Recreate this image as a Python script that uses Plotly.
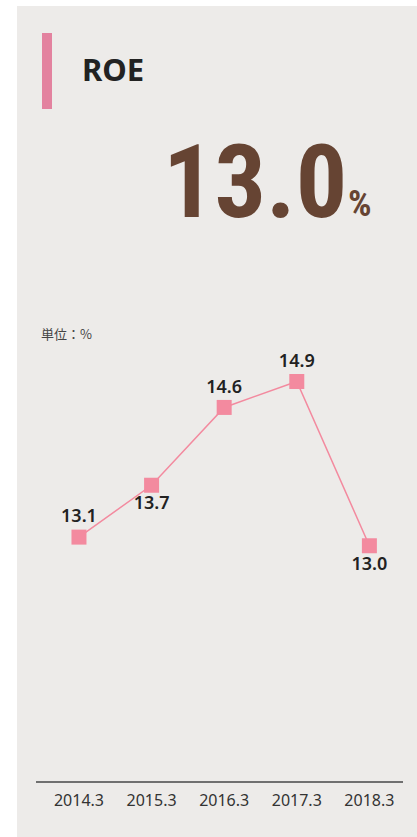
import plotly.graph_objects as go

categories = ["2014.3", "2015.3", "2016.3", "2017.3", "2018.3"]
roe_values = [13.1, 13.7, 14.6, 14.9, 13.0]
label_positions = ["top center", "bottom center", "top center", "top center", "bottom center"]
headline_value = "13.0"
title_text = "ROE"
unit_text = "単位：%"

W, H = 417, 837


def px(x):
    return x / W


def py(y):
    return 1 - y / H


BG = "#EDEBE9"
PINK = "#F38A9F"
BAR = "#E3829F"
BROWN = "#664433"
TXT = "#222222"

fig = go.Figure()
fig.add_trace(go.Scatter(
    x=list(range(len(categories))),
    y=roe_values,
    mode="lines+markers+text",
    line=dict(color=PINK, width=1.5),
    marker=dict(symbol="square", size=15, color=PINK),
    text=[f"{v:.1f}" for v in roe_values],
    textposition=label_positions,
    textfont=dict(family="Noto Sans", size=18, color=TXT, weight=600),
    cliponaxis=False,
    hoverinfo="skip",
))

shapes = [
    dict(type="rect", xref="paper", yref="paper", x0=px(17), x1=px(417), y0=py(837), y1=py(6),
         fillcolor=BG, line=dict(width=0), layer="below"),
    dict(type="rect", xref="paper", yref="paper", x0=px(42), x1=px(52), y0=py(109), y1=py(33),
         fillcolor=BAR, line=dict(width=0), layer="below"),
]

annotations = [
    dict(text=f"<b>{title_text}</b>", x=px(80), y=py(69), xref="paper", yref="paper",
         xanchor="left", yanchor="middle", showarrow=False,
         font=dict(family="Noto Sans", size=31, color=TXT)),
    dict(text=f"<b>{headline_value}</b>", x=px(349), y=py(181.5), xref="paper", yref="paper",
         xanchor="right", yanchor="middle", showarrow=False,
         font=dict(family="Roboto Condensed", size=102, color=BROWN)),
    dict(text="<b>%</b>", x=px(346), y=py(203.5), xref="paper", yref="paper",
         xanchor="left", yanchor="middle", showarrow=False,
         font=dict(family="Roboto Condensed", size=37, color=BROWN)),
    dict(text=unit_text, x=px(39), y=py(333), xref="paper", yref="paper",
         xanchor="left", yanchor="middle", showarrow=False,
         font=dict(family="Noto Sans CJK JP", size=13, color="#444444")),
]

fig.update_layout(
    width=W, height=H,
    margin=dict(l=0, r=0, t=0, b=0),
    paper_bgcolor="white",
    plot_bgcolor="rgba(0,0,0,0)",
    showlegend=False,
    shapes=shapes,
    annotations=annotations,
    xaxis=dict(
        domain=[px(36), px(403)],
        range=[-0.592, 4.463],
        tickmode="array",
        tickvals=list(range(len(categories))),
        ticktext=categories,
        showgrid=False, zeroline=False,
        showline=True, linecolor="#707070", linewidth=2,
        ticks="",
        ticklabelstandoff=4,
        tickfont=dict(family="Noto Sans", size=16, color="#333333"),
        fixedrange=True,
    ),
    yaxis=dict(
        domain=[1 - 781 / H, 1 - 340 / H],
        range=[10.279, 15.38],
        visible=False,
        fixedrange=True,
    ),
)

fig.write_html("out.html")
